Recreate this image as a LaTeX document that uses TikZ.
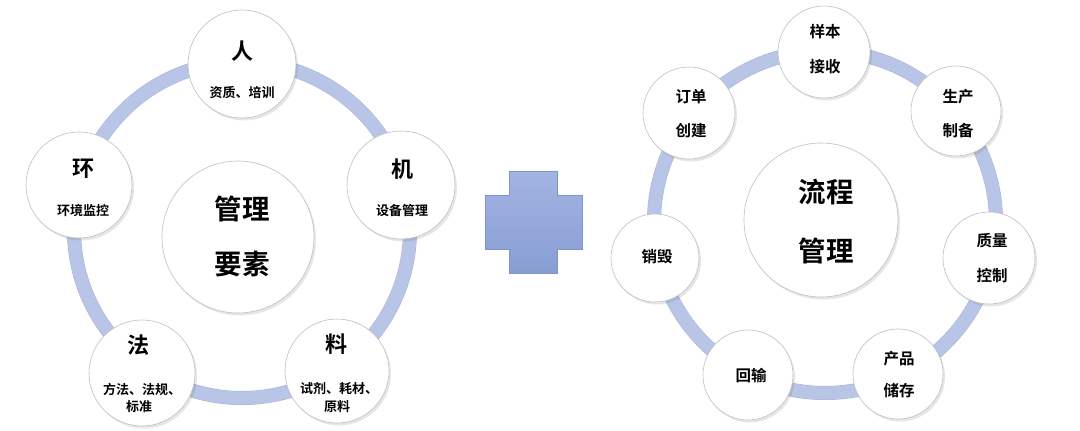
\documentclass[tikz,border=0pt]{standalone}
\usepackage{fontspec}
\newfontfamily\cjk{Noto Sans CJK SC Bold}
\usetikzlibrary{shadows}
\definecolor{ringc}{RGB}{184,197,230}
\definecolor{ringe}{RGB}{166,180,218}
\definecolor{plustop}{RGB}{162,180,226}
\definecolor{plusbot}{RGB}{136,157,212}
\definecolor{plusedge}{RGB}{126,148,204}
\pgfdeclareradialshading{ballshade}{\pgfpoint{-5bp}{5bp}}{color(0bp)=(white); color(38bp)=(white); color(48bp)=(black!9); color(56bp)=(black!26)}
\tikzset{
  ball/.style={circle, inner sep=0pt, draw=black!25, line width=0.6pt, shading=ballshade,
    drop shadow={opacity=0.16, shadow xshift=2pt, shadow yshift=-2.5pt, fill=black!60}},
  ringline/.style={draw=ringc, line width=13pt},
  ringedge/.style={draw=ringe, line width=14pt},
  big/.style={font=\cjk\fontsize{22}{22}\selectfont, inner sep=0pt},
  subl/.style={font=\cjk\fontsize{13}{13}\selectfont, inner sep=0pt},
  subr/.style={font=\cjk\fontsize{15.5}{15.5}\selectfont, inner sep=0pt},
  ctr/.style={font=\cjk\fontsize{27.5}{27.5}\selectfont, inner sep=0pt}
}
\begin{document}
\begin{tikzpicture}[x=1pt,y=-1pt]
\useasboundingbox[fill=white] (0,0) rectangle (1080,431);
% ---------------- left ring ----------------
\coordinate (lc) at (242,230);
\draw[ringedge] (lc) circle (168);
\draw[ringline] (lc) circle (168);
\node[ball, minimum size=152pt] (lcenter) at (238,237) {};
\node[ball, minimum size=108pt] (ren) at (242,64) {};
\node[ball, minimum size=108pt] (ji) at (401,185) {};
\node[ball, minimum size=106pt] (huan) at (79,185) {};
\node[ball, minimum size=106pt] (fa) at (142,373) {};
\node[ball, minimum size=104pt] (liao) at (337,371) {};
\node[ctr] (t1a) at (242,209) {管理};
\node[ctr] (t1b) at (242,264) {要素};
\node[big] (t2a) at (242,51) {人};
\node[subl] (t2b) at (242,93) {资质、培训};
\node[big] (t3a) at (402,169) {机};
\node[subl] (t3b) at (402,211) {设备管理};
\node[big] (t4a) at (83,169) {环};
\node[subl] (t4b) at (83,211) {环境监控};
\node[big] (t5a) at (138,345) {法};
\node[subl] (t5b) at (142,389) {方法、法规、};
\node[subl] (t5c) at (139,407) {标准};
\node[big] (t6a) at (336,344) {料};
\node[subl] (t6b) at (339,389) {试剂、耗材、};
\node[subl] (t6c) at (337,407) {原料};
% ---------------- plus ----------------
\shade[top color=plustop, bottom color=plusbot, draw=plusedge, line width=0.4pt]
  (509,171) -- (557,171) -- (557,195) -- (582,195) -- (582,249) -- (557,249)
  -- (557,273) -- (509,273) -- (509,249) -- (485,249) -- (485,195) -- (509,195) -- cycle;
% ---------------- right ring ----------------
\coordinate (rc) at (825,222);
\draw[ringedge] (rc) circle (171);
\draw[ringline] (rc) circle (171);
\node[ball, minimum size=154pt] (rcenter) at (821,220) {};
\node[ball, minimum size=92pt] (yb) at (824,52) {};
\node[ball, minimum size=90pt] (sc) at (956,111) {};
\node[ball, minimum size=92pt] (zl) at (989,258) {};
\node[ball, minimum size=90pt] (cp) at (898,374) {};
\node[ball, minimum size=90pt] (hs) at (748,375) {};
\node[ball, minimum size=88pt] (xh) at (655,258) {};
\node[ball, minimum size=92pt] (dd) at (689,113) {};
\node[ctr] (r1a) at (826,192) {流程};
\node[ctr] (r1b) at (826,251) {管理};
\node[subr] (r2a) at (825,32) {样本};
\node[subr] (r2b) at (825,67) {接收};
\node[subr] (r3a) at (958,97) {生产};
\node[subr] (r3b) at (958,131) {制备};
\node[subr] (r4a) at (992,241) {质量};
\node[subr] (r4b) at (992,276) {控制};
\node[subr] (r5a) at (899,359) {产品};
\node[subr] (r5b) at (899,391) {储存};
\node[subr] (r6a) at (751,376) {回输};
\node[subr] (r7a) at (657,257) {销毁};
\node[subr] (r8a) at (691,97) {订单};
\node[subr] (r8b) at (691,131) {创建};
\end{tikzpicture}
\end{document}
